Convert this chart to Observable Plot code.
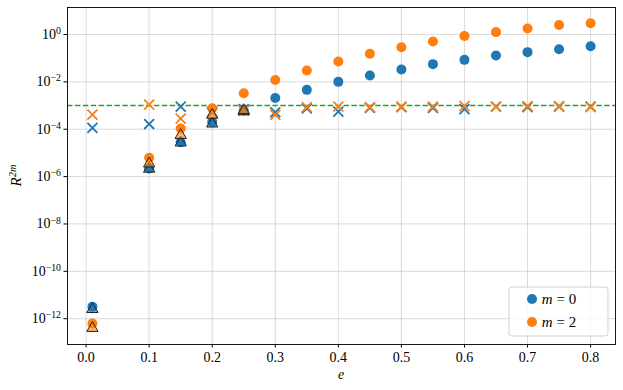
<!DOCTYPE html>
<html><head><meta charset="utf-8">
<script src="https://cdn.jsdelivr.net/npm/d3@7"></script>
<script src="https://cdn.jsdelivr.net/npm/@observablehq/plot@0.6"></script>
<style>
body{margin:0;background:#fff;}
#chart{position:relative;width:623px;height:390px;}
</style></head><body><div id="chart"></div>
<script>
// ---- data ----
const eValues = [0.01,0.1,0.15,0.2,0.25,0.3,0.35,0.4,0.45,0.5,0.55,0.6,0.65,0.7,0.75,0.8];
const circleM0 = [3.2e-12,2.2e-6,2.8e-5,2.0e-4,6.0e-4,2.1e-3,4.6e-3,1.0e-2,1.86e-2,3.3e-2,5.6e-2,8.5e-2,0.13,0.18,0.24,0.32];
const circleM2 = [6.3e-13,6.3e-6,1.07e-4,7.6e-4,3.3e-3,1.2e-2,0.030,0.072,0.153,0.29,0.51,0.86,1.26,1.79,2.5,3.0];
const crossM0 = [1.15e-4,1.66e-4,9.0e-4,5.0e-4,7.0e-4,5.2e-4,7.5e-4,5.5e-4,8.0e-4,8.5e-4,8.0e-4,7.0e-4,9.0e-4,8.5e-4,9.0e-4,9.0e-4];
const crossM2 = [4.1e-4,1.1e-3,2.8e-4,5.5e-4,6.0e-4,4.0e-4,8.5e-4,9.0e-4,8.5e-4,9.0e-4,9.0e-4,9.5e-4,9.0e-4,9.5e-4,9.5e-4,8.5e-4];
const triE = [0.01,0.1,0.15,0.2,0.25];
const triM0 = [2.5e-12,2.1e-6,2.7e-5,1.7e-4,5.6e-4];
const triM2 = [4.0e-13,3.5e-6,5.6e-5,4.0e-4,6.3e-4];
const threshold = 1e-3;
const xTicks = [0,0.1,0.2,0.3,0.4,0.5,0.6,0.7,0.8];
const yTickExps = [0,-2,-4,-6,-8,-10,-12];
const legendLabels = ["0","2"];
const colors = ["#1f77b4","#ff7f0e"];

const rows = (xs, ys) => xs.map((e,i)=>({e, v: ys[i]}));
const yTicks = yTickExps.map(k => Math.pow(10,k));

const font = "'Liberation Serif', 'DejaVu Serif', serif";
const plot = Plot.plot({
  width:623, height:390,
  marginLeft:67, marginRight:8, marginTop:7, marginBottom:46,
  style:{fontFamily:font, fontSize:"14px", background:"white", color:"black"},
  x:{domain:[-0.0295,0.8395]},
  y:{type:"log", domain:[Math.pow(10,-13.09), Math.pow(10,1.14)]},
  marks:[
    Plot.gridX(xTicks,{stroke:"#b0b0b0", strokeOpacity:0.6, strokeWidth:0.8}),
    Plot.gridY(yTicks,{stroke:"#b0b0b0", strokeOpacity:0.6, strokeWidth:0.8}),
    Plot.ruleY([threshold],{stroke:"#2ca02c", strokeWidth:1.5, strokeDasharray:"5.5,2.4"}),
    Plot.dot(rows(eValues,circleM0),{x:"e", y:"v", r:5, fill:colors[0]}),
    Plot.dot(rows(eValues,circleM2),{x:"e", y:"v", r:5, fill:colors[1]}),
    Plot.dot(rows(eValues,crossM0),{x:"e", y:"v", r:4.6, symbol:"times", stroke:colors[0], strokeWidth:1.8}),
    Plot.dot(rows(eValues,crossM2),{x:"e", y:"v", r:4.6, symbol:"times", stroke:colors[1], strokeWidth:1.8}),
    Plot.dot(rows(triE,triM0),{x:"e", y:"v", r:4.2, symbol:"triangle", fill:colors[0], fillOpacity:0.6, stroke:"#222", strokeWidth:1}),
    Plot.dot(rows(triE,triM2),{x:"e", y:"v", r:4.2, symbol:"triangle", fill:colors[1], fillOpacity:0.6, stroke:"#222", strokeWidth:1}),
    Plot.frame({stroke:"black", strokeWidth:0.9}),
    Plot.axisX(xTicks,{tickSize:3.5, tickPadding:4, tickFormat:d3.format(".1f"), label:null, fontSize:14}),
    Plot.axisY(yTicks,{tickSize:3.5, tickPadding:3, tickFormat:d => "10^" + Math.round(Math.log10(d)), label:null, fontSize:14})
  ]
});
document.getElementById("chart").appendChild(plot);

const svg = d3.select(plot);
// superscript tick labels
svg.selectAll("text").filter(function(){ return /^10\^/.test(this.textContent); }).each(function(){
  const exp = this.textContent.split("^")[1].replace("-", "\u2212");
  const t = d3.select(this);
  t.text("");
  t.append("tspan").text("10");
  t.append("tspan").attr("dy","-0.5em").attr("font-size","70%").text(exp);
});

// axis labels
const ylab = svg.append("text").attr("transform","translate(21,175.5) rotate(-90)")
  .attr("text-anchor","middle").attr("font-family",font).attr("font-size",15).attr("fill","black");
ylab.append("tspan").attr("font-style","italic").text("R");
ylab.append("tspan").attr("font-style","italic").attr("dy","-0.5em").attr("font-size","70%").text("2m");

svg.append("text").attr("x",341).attr("y",379).attr("text-anchor","middle")
  .attr("font-family",font).attr("font-size",14).attr("font-style","italic").attr("fill","black").text("e");

// legend
const lg = svg.append("g");
lg.append("rect").attr("x",509).attr("y",287).attr("width",99).attr("height",49).attr("rx",3)
  .attr("fill","white").attr("fill-opacity",0.8).attr("stroke","#d0d0d0");
legendLabels.forEach((lab,i)=>{
  const cy = 299 + i*23;
  lg.append("circle").attr("cx",532).attr("cy",cy).attr("r",5).attr("fill",colors[i]);
  const t = lg.append("text").attr("x",559).attr("y",cy+5).attr("font-family",font).attr("font-size",15).attr("fill","black");
  t.append("tspan").attr("font-style","italic").text("m");
  t.append("tspan").text(" = " + lab);
});
</script>
</body></html>
